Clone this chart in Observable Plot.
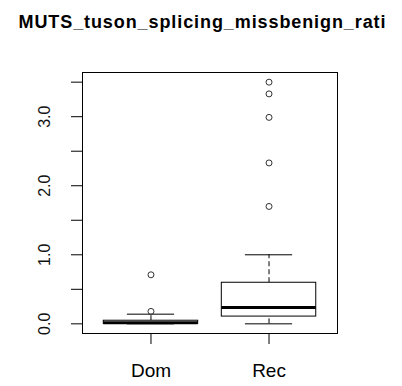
<!DOCTYPE html>
<html>
<head>
<meta charset="utf-8">
<script src="https://cdn.jsdelivr.net/npm/d3@7"></script>
<script src="https://cdn.jsdelivr.net/npm/@observablehq/plot@0.6"></script>
<style>
  html, body { margin: 0; padding: 0; background: white; }
</style>
</head>
<body>
<div id="chart"></div>
<script>
const title = "MUTS_tuson_splicing_missbenign_rati";
const categories = ["Dom", "Rec"];
const whiskerLow = [0.0, 0.0];
const q1 = [0.0, 0.105];
const median = [0.015, 0.235];
const q3 = [0.045, 0.595];
const whiskerHigh = [0.14, 1.0];
const outliersDom = [0.18, 0.71];
const outliersRec = [1.70, 2.33, 2.99, 3.33, 3.50];
const yTicks = [0, 0.5, 1, 1.5, 2, 2.5, 3, 3.5];
const yLabels = [0, 1, 2, 3];

const boxes = categories.map((c, i) => ({
  name: c, pos: i + 1,
  lo: whiskerLow[i], q1: q1[i], med: median[i], q3: q3[i], hi: whiskerHigh[i]
}));
const outliers = [
  ...outliersDom.map(v => ({pos: 1, v})),
  ...outliersRec.map(v => ({pos: 2, v}))
];
const halfBox = 0.4, halfCap = 0.2;

const chart = Plot.plot({
  width: 402,
  height: 386,
  marginLeft: 82,
  marginRight: 65,
  marginTop: 72,
  marginBottom: 53,
  style: {fontFamily: "Liberation Sans, Arial, sans-serif", background: "white", color: "black"},
  x: {type: "linear", domain: [0.42, 2.58], label: null},
  y: {type: "linear", domain: [-0.14, 3.64], label: null},
  marks: [
    Plot.axisY({ticks: yTicks, tickSize: 11, tickFormat: () => "", stroke: "black", strokeOpacity: 1, strokeWidth: 1, label: null}),
    Plot.text(yLabels, {y: d => d, frameAnchor: "left", dx: -38, text: d => d3.format(".1f")(d),
      rotate: -90, textAnchor: "middle", lineAnchor: "middle", fontSize: 16, fill: "#111"}),
    Plot.axisX({ticks: [1, 2], tickFormat: d => categories[d - 1], tickSize: 11, tickPadding: 19, fontSize: 19,
      stroke: "black", strokeOpacity: 1, label: null}),
    // whiskers
    Plot.ruleX(boxes, {x: "pos", y1: "q3", y2: "hi", stroke: "black", strokeWidth: 1, strokeDasharray: "5,3"}),
    Plot.ruleX(boxes, {x: "pos", y1: "lo", y2: "q1", stroke: "black", strokeWidth: 1, strokeDasharray: "5,3"}),
    // caps
    Plot.ruleY(boxes, {y: "hi", x1: d => d.pos - halfCap, x2: d => d.pos + halfCap, stroke: "black", strokeWidth: 1}),
    Plot.ruleY(boxes, {y: "lo", x1: d => d.pos - halfCap, x2: d => d.pos + halfCap, stroke: "black", strokeWidth: 1}),
    // boxes
    Plot.rect(boxes, {x1: d => d.pos - halfBox, x2: d => d.pos + halfBox, y1: "q1", y2: "q3",
      fill: "white", stroke: "black", strokeWidth: 1}),
    // medians
    Plot.ruleY(boxes, {y: "med", x1: d => d.pos - halfBox, x2: d => d.pos + halfBox, stroke: "black", strokeWidth: 3}),
    // outliers
    Plot.dot(outliers, {x: "pos", y: "v", r: 3, stroke: "#333", fill: "none", strokeWidth: 1}),
    Plot.frame({stroke: "black", strokeWidth: 1}),
    Plot.text([title], {frameAnchor: "top", dx: -8, dy: -50, text: d => d, fontSize: 18,
      fontWeight: "bold", lineAnchor: "middle", textAnchor: "middle", fill: "black"})
  ]
});
document.getElementById("chart").appendChild(chart);
// stretch title to its measured width
d3.select(chart).selectAll("text").filter(function() { return this.textContent === title; })
  .attr("textLength", 367).attr("lengthAdjust", "spacing");
</script>
</body>
</html>
